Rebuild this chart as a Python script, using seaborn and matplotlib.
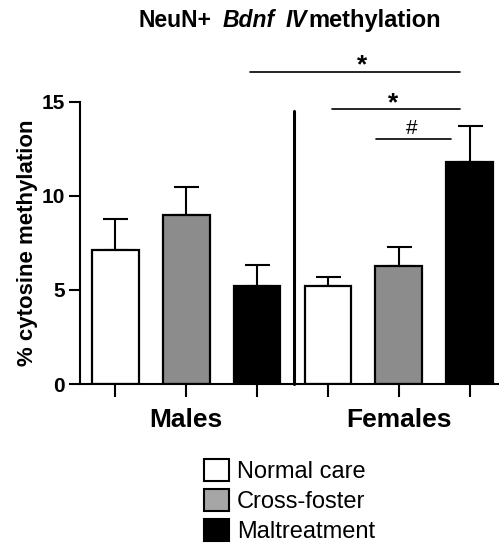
import numpy as np
import pandas as pd
import matplotlib
matplotlib.use("Agg")
import matplotlib.pyplot as plt
from matplotlib.patches import Patch
import seaborn as sns

# ---- data ----
sexes = ["Males", "Males", "Males", "Females", "Females", "Females"]
treatments = ["Normal care", "Cross-foster", "Maltreatment",
              "Normal care", "Cross-foster", "Maltreatment"]
means = [7.13, 8.99, 5.23, 5.21, 6.29, 11.82]
sems = [1.65, 1.47, 1.08, 0.45, 1.01, 1.87]
treatment_order = ["Normal care", "Cross-foster", "Maltreatment"]
sex_labels = ["Males", "Females"]
yticks = [0, 5, 10, 15]

bar_colors = {"Normal care": "#ffffff", "Cross-foster": "#8c8c8c", "Maltreatment": "#000000"}
legend_colors = {"Normal care": "#ffffff", "Cross-foster": "#a6a6a6", "Maltreatment": "#000000"}

df = pd.DataFrame({
    "group": [f"{s}|{t}" for s, t in zip(sexes, treatments)],
    "sex": sexes,
    "treatment": treatments,
    "value": means,
    "sem": sems,
})

sns.set_style("ticks")
plt.rcParams["font.family"] = ["Liberation Sans", "DejaVu Sans"]
plt.rcParams.update({
    "text.color": "black", "axes.labelcolor": "black", "axes.edgecolor": "black",
    "xtick.color": "black", "ytick.color": "black",
})

W, H = 499, 548
fig = plt.figure(figsize=(W / 100, H / 100), dpi=100)
ax = fig.add_axes([80 / W, 1 - 384 / H, (498 - 80) / W, (384 - 101.7) / H])

sns.barplot(data=df, x="group", y="value", hue="treatment", order=list(df["group"]),
            hue_order=treatment_order, palette=bar_colors, dodge=False, width=0.66,
            edgecolor="black", linewidth=1.6, errorbar=None, legend=False, ax=ax)

xpos = np.arange(len(df))
ax.errorbar(xpos, df["value"], yerr=[np.zeros(len(df)), df["sem"]], fmt="none",
            ecolor="black", elinewidth=1.5, capsize=9, capthick=1.5, zorder=0.5)

ax.set_xlim(-0.5, 5.4)
ax.set_ylim(0, 15)
ax.set_yticks(yticks)
ax.set_yticklabels([str(v) for v in yticks], fontsize=15, fontweight="bold")
ax.set_xticks(xpos)
xl = [""] * len(df)
xl[1] = sex_labels[0]
xl[4] = sex_labels[1]
ax.set_xticklabels(xl, fontsize=19, fontweight="bold")
ax.tick_params(axis="x", direction="out", length=9, width=1.5, pad=8, colors="black")
ax.tick_params(axis="y", direction="out", length=8, width=1.5, pad=3, colors="black")
ax.set_xlabel("")
ax.set_ylabel("% cytosine methylation", fontsize=16, fontweight="bold", labelpad=2.5,
              color="black")
sns.despine(ax=ax)
for sp in ("left", "bottom"):
    ax.spines[sp].set_linewidth(1.5)
    ax.spines[sp].set_color("black")

# divider between sexes
ax.plot([2.52, 2.52], [0, 14.48], color="black", lw=2.2, clip_on=False, zorder=3)

# significance annotations
sig = [
    (1.90, 4.87, 16.58, "*", 3.48, 16.55, 19, "bold"),
    (3.05, 4.87, 14.63, "*", 3.92, 14.55, 19, "bold"),
    (3.68, 4.73, 13.02, "#", 4.18, 13.30, 15, "normal"),
]
for x0, x1, yl, txt, xt, yt, fs, fw in sig:
    ax.plot([x0, x1], [yl, yl], color="black", lw=1.2, clip_on=False)
    ax.text(xt, yt, txt, ha="center", va="baseline", fontsize=fs, fontweight=fw,
            color="black", clip_on=False)

# title in pieces (bold / bold italic)
ty = 1 - 27 / H
fig.text(139 / W, ty, "NeuN+", fontsize=16.5, fontweight="bold", va="baseline", color="black")
fig.text(223 / W, ty, "Bdnf", fontsize=16.5, fontweight="bold", style="italic",
         va="baseline", color="black")
fig.text(286 / W, ty, "IV", fontsize=16.5, fontweight="bold", style="italic",
         va="baseline", color="black")
fig.text(308 / W, ty, "methylation", fontsize=17, fontweight="bold", va="baseline",
         color="black")

handles = [Patch(facecolor=legend_colors[t], edgecolor="black", linewidth=1.5, label=t)
           for t in treatment_order]
leg = fig.legend(handles=handles, loc="upper left", bbox_to_anchor=(204 / W, 1 - 459 / H),
                 frameon=False, borderpad=0, borderaxespad=0, fontsize=17,
                 handlelength=1.05, handleheight=1.05, handletextpad=0.35, labelspacing=0.25)
for t in leg.get_texts():
    t.set_color("black")

fig.savefig("out.png", dpi=100)
